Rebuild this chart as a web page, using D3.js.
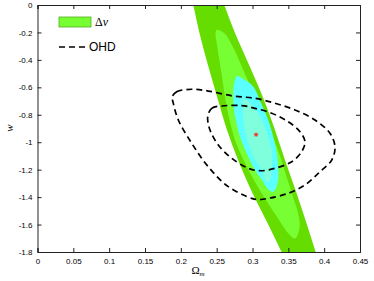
<!DOCTYPE html>
<html>
<head>
<meta charset="utf-8">
<script src="https://cdn.jsdelivr.net/npm/d3@7"></script>
<style>
body{margin:0;background:#fff;}
</style>
</head>
<body>
<div id="graph1"></div>
<script>
// outer (dark green) band: w, left Omega_m, right Omega_m
var band_w  = [0.109, 0, -0.204, -0.452, -0.692, -0.911, -1.130, -1.348, -1.567, -1.800, -1.895]
var band_lo = [0.2128, 0.2174, 0.2260, 0.2386, 0.2519, 0.2644, 0.2798, 0.2979, 0.3188, 0.3407, 0.3495]
var band_hi = [0.2527, 0.2606, 0.2756, 0.2965, 0.3160, 0.3314, 0.3453, 0.3600, 0.3739, 0.3882, 0.3939]

// light green region
var mid_om = [0.2498,0.2602,0.2728,0.2853,0.2993,0.3146,0.3272,0.3370,0.3467,0.3565,0.3642,0.3656,0.3593,0.3495,0.3370,0.3188,0.3035,0.2895,0.2770,0.2686,0.2623,0.2560,0.2505,0.2484]
var mid_w  = [-0.182,-0.204,-0.306,-0.452,-0.619,-0.787,-0.947,-1.079,-1.239,-1.399,-1.530,-1.625,-1.702,-1.662,-1.567,-1.421,-1.290,-1.151,-1.006,-0.853,-0.692,-0.474,-0.292,-0.219]

// cyan region
var in_om = [0.2784,0.2895,0.3011,0.3119,0.3220,0.3286,0.3338,0.3360,0.3356,0.3328,0.3286,0.3216,0.3132,0.3035,0.2937,0.2826,0.2756,0.2732,0.2735,0.2756]
var in_w  = [-0.517,-0.547,-0.595,-0.714,-0.838,-0.955,-1.079,-1.202,-1.275,-1.334,-1.363,-1.341,-1.275,-1.202,-1.100,-0.960,-0.809,-0.714,-0.605,-0.547]

// pale core
var core_om = [0.2872,0.2965,0.3049,0.3128,0.3220,0.3268,0.3272,0.3258,0.3230,0.3174,0.3128,0.3035,0.2989,0.2909,0.2872,0.2860]
var core_w  = [-0.680,-0.714,-0.765,-0.838,-0.960,-1.057,-1.151,-1.239,-1.288,-1.275,-1.202,-1.130,-1.079,-0.947,-0.838,-0.743]

// OHD contours
var ohd2_om = [0.1881,0.1942,0.2152,0.2383,0.2728,0.3035,0.3314,0.3593,0.3872,0.4081,0.4151,0.4105,0.3942,0.3732,0.3499,0.3220,0.3077,0.2989,0.2662,0.2383,0.2152,0.1965,0.1895]
var ohd2_w  = [-0.668,-0.632,-0.614,-0.627,-0.663,-0.680,-0.716,-0.765,-0.838,-0.935,-1.033,-1.130,-1.215,-1.312,-1.372,-1.409,-1.418,-1.409,-1.324,-1.179,-1.008,-0.838,-0.716]
var ohd1_om = [0.2375,0.2431,0.2570,0.2849,0.3035,0.3268,0.3499,0.3663,0.3732,0.3686,0.3547,0.3314,0.3105,0.2941,0.2710,0.2523,0.2407]
var ohd1_w  = [-0.814,-0.753,-0.736,-0.733,-0.753,-0.789,-0.851,-0.923,-0.996,-1.069,-1.142,-1.190,-1.208,-1.190,-1.117,-1.020,-0.911]

var best = [0.305, -0.945]

var xticks = [0,0.05,0.1,0.15,0.2,0.25,0.3,0.35,0.4,0.45]
var yticks = [0,-0.2,-0.4,-0.6,-0.8,-1,-1.2,-1.4,-1.6,-1.8]

var sans = "'Liberation Sans',Arial,sans-serif"
var serif = "'Liberation Serif','Times New Roman',serif"

var margin = {left:37.5, top:5}
var width = 322.5, height = 247

var xscale = d3.scaleLinear().domain([0,0.45]).range([0,width])
var yscale = d3.scaleLinear().domain([-1.8,0]).range([height,0])

var svg = d3.select("#graph1").append("svg")
  .attr("width",374).attr("height",281)
var g = svg.append("g").attr("transform","translate("+margin.left+","+margin.top+")")

g.append("clipPath").attr("id","clip").append("rect")
  .attr("width",width).attr("height",height)
var plot = g.append("g").attr("clip-path","url(#clip)")

function zip(a,b){ return a.map(function(d,i){ return [d,b[i]] }) }
var loop = d3.line()
  .x(function(d){ return xscale(d[0]) })
  .y(function(d){ return yscale(d[1]) })
  .curve(d3.curveCatmullRomClosed.alpha(0.5))

var bandData = band_w.map(function(w,i){ return {w:w, lo:band_lo[i], hi:band_hi[i]} })
plot.append("path")
  .attr("d", d3.area()
    .y(function(d){ return yscale(d.w) })
    .x0(function(d){ return xscale(d.lo) })
    .x1(function(d){ return xscale(d.hi) })
    .curve(d3.curveCatmullRom)(bandData))
  .attr("fill","#66dd00")

plot.append("path").attr("d",loop(zip(mid_om,mid_w))).attr("fill","#77ff33")
plot.append("path").attr("d",loop(zip(in_om,in_w))).attr("fill","#5cffff")
plot.append("path").attr("d",loop(zip(core_om,core_w))).attr("fill","#80ffdc")

;[zip(ohd2_om,ohd2_w), zip(ohd1_om,ohd1_w)].forEach(function(c){
  plot.append("path").attr("d",loop(c))
    .attr("fill","none").attr("stroke","#000")
    .attr("stroke-width",1.7).attr("stroke-dasharray","6,4")
})

// best fit star
var sx = xscale(best[0]), sy = yscale(best[1])
var star = plot.append("g").attr("stroke","#ff2020").attr("stroke-width",0.9)
;[0,45,90,135].forEach(function(a){
  var r = 2.2, c = Math.cos(a*Math.PI/180)*r, s = Math.sin(a*Math.PI/180)*r
  star.append("line").attr("x1",sx-c).attr("y1",sy-s).attr("x2",sx+c).attr("y2",sy+s)
})

// axes (ticks inward, all four sides)
g.append("g").attr("transform","translate(0,"+height+")")
  .call(d3.axisBottom(xscale).tickValues(xticks).tickSize(-4).tickPadding(6).tickFormat(d3.format("")))
g.append("g")
  .call(d3.axisTop(xscale).tickValues(xticks).tickSize(-4).tickFormat(""))
g.append("g")
  .call(d3.axisLeft(yscale).tickValues(yticks).tickSize(-4).tickPadding(5).tickFormat(function(d){ return d3.format("")(d).replace("−","-") }))
g.append("g").attr("transform","translate("+width+",0)")
  .call(d3.axisRight(yscale).tickValues(yticks).tickSize(-4).tickFormat(""))
g.selectAll(".domain").attr("stroke","#222").attr("stroke-width",1)
g.selectAll(".tick line").attr("stroke","#222")
g.selectAll(".tick text").attr("fill","#000")
  .style("font-size","8px").style("font-family",sans)

// axis labels
var xl = svg.append("text").attr("x",198).attr("y",274).attr("text-anchor","middle")
  .style("font-family",serif).style("font-size","11px")
xl.append("tspan").text("Ω")
xl.append("tspan").attr("dy",2).style("font-size","7px").style("font-style","italic").text("m")

svg.append("text").attr("transform","translate(13,128) rotate(-90)")
  .attr("text-anchor","middle").style("font-family",serif)
  .style("font-style","italic").style("font-size","11px").text("w")

// legend
svg.append("rect").attr("x",59).attr("y",17).attr("width",32).attr("height",10)
  .attr("fill","#77ff33").attr("stroke","#55aa22").attr("stroke-width",0.8)
var lt = svg.append("text").attr("x",95).attr("y",26)
  .style("font-family",serif).style("font-size","12px")
lt.append("tspan").text("Δ")
lt.append("tspan").style("font-style","italic").text("v")
svg.append("line").attr("x1",59).attr("x2",88).attr("y1",47).attr("y2",47)
  .attr("stroke","#000").attr("stroke-width",1.7).attr("stroke-dasharray","6,4")
svg.append("text").attr("x",89).attr("y",51).style("font-family",sans).style("font-size","12px").text("OHD")
</script>
</body>
</html>
